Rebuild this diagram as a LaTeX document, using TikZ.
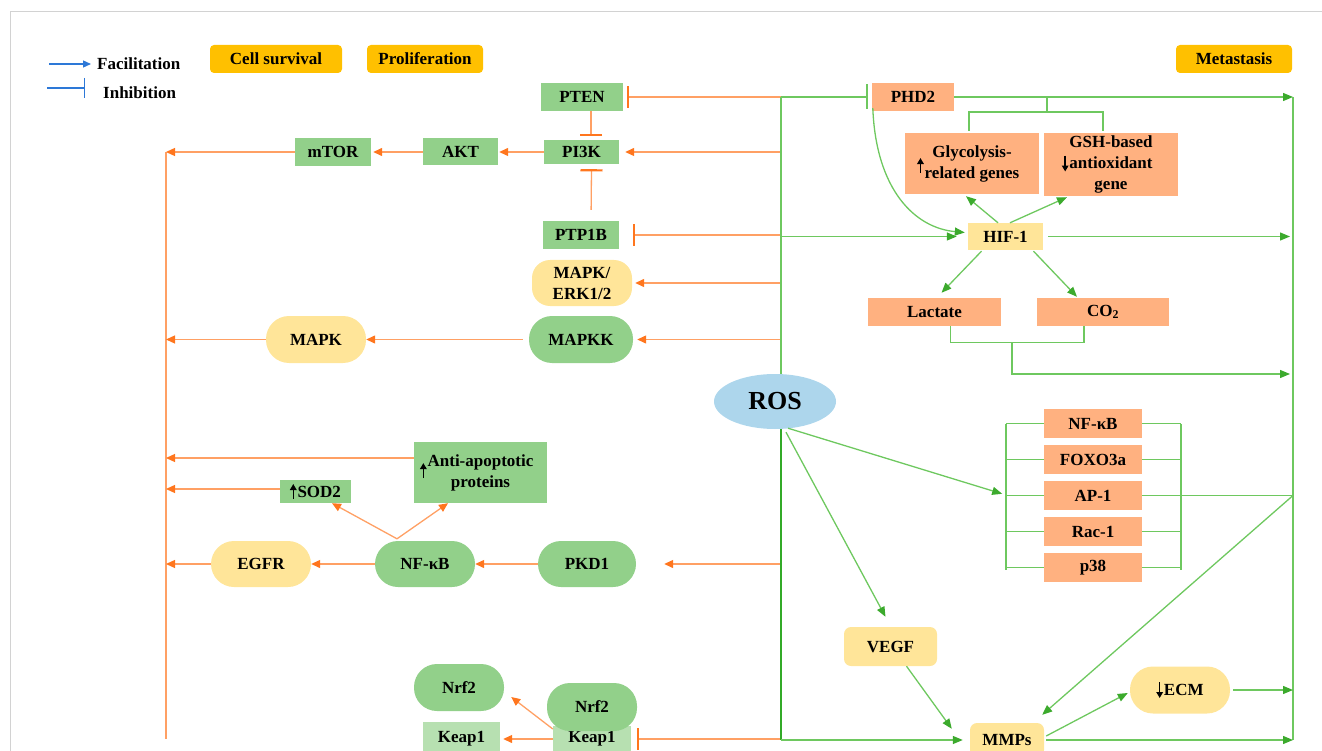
\documentclass[tikz,border=0pt]{standalone}
\usepackage{fontspec}
\setmainfont{Liberation Serif}
\usetikzlibrary{arrows.meta,shapes.geometric}
\definecolor{gbox}{RGB}{146,208,138}
\definecolor{lgbox}{RGB}{183,224,177}
\definecolor{ybox}{RGB}{255,229,153}
\definecolor{obox}{RGB}{255,177,128}
\definecolor{labc}{RGB}{255,192,0}
\definecolor{rosc}{RGB}{173,214,236}
\definecolor{oline}{RGB}{255,160,100}
\definecolor{otip}{RGB}{255,118,30}
\definecolor{gline}{RGB}{110,200,95}
\definecolor{gtip}{RGB}{60,170,45}
\definecolor{gthick}{RGB}{50,170,40}
\definecolor{bline}{RGB}{45,120,215}
\definecolor{framec}{RGB}{210,210,210}
\newcommand\myup{\tikz[baseline=0pt]\draw[black, line width=1.5pt, -{Triangle[length=6pt,width=6.5pt]}] (0pt,-2pt) -- (0pt,13pt);\kern1pt}
\newcommand\mydown{\tikz[baseline=0pt]\draw[black, line width=1.5pt, -{Triangle[length=6pt,width=6.5pt]}] (0pt,13pt) -- (0pt,-3pt);\kern1pt}
\begin{document}
\begin{tikzpicture}[x=1pt,y=-1pt,
  every node/.style={font=\bfseries\fontsize{17}{21}\selectfont, inner sep=0pt, align=center},
  sz/.style 2 args={minimum width=#1, minimum height=#2},
  gb/.style={rectangle, fill=gbox},
  lgb/.style={rectangle, fill=lgbox},
  ob/.style={rectangle, fill=obox},
  yb/.style={rectangle, fill=ybox},
  yr/.style={rectangle, fill=ybox, rounded corners=7},
  gst/.style={rectangle, fill=gbox, rounded corners=23},
  yst/.style={rectangle, fill=ybox, rounded corners=23},
  labbox/.style={rectangle, fill=labc, rounded corners=4},
  oarr/.style={draw=oline, line width=1.3, -{Triangle[length=9pt,width=8pt,color=otip]}},
  oinh/.style={draw=oline, line width=1.3, -{Bar[width=22pt,line width=2.2pt,color=otip]}},
  garr/.style={draw=gline, line width=1.3, -{Triangle[length=10pt,width=8pt,color=gtip]}},
  ginh/.style={draw=gline, line width=1.3, -{Bar[width=25pt,line width=1.5pt]}},
  gl/.style={draw=gline, line width=1.3},
  ol/.style={draw=oline, line width=1.3},
]
\useasboundingbox (0,0) rectangle (1322,751);
\clip (0,0) rectangle (1322,751);
\draw[framec, line width=1] (10,751) -- (10,12) -- (1322,12);

% legend
\coordinate (fa1) at (49,64); \coordinate (fa2) at (91,64);
\draw[draw=bline, line width=1.3, -{Triangle[length=8pt,width=7pt,color=bline]}] (fa1) -- (fa2);
\node[anchor=west] (fac) at (97,64) {Facilitation};
\coordinate (in1) at (47,88); \coordinate (in2) at (85,88);
\draw[draw=bline, line width=1.3, -{Bar[width=20pt,line width=1.3pt]}] (in1) -- (in2);
\node[anchor=west] (inh) at (103,93) {Inhibition};
\node[labbox, sz={132}{28}] (cs) at (276,59) {Cell survival};
\node[labbox, sz={116}{28}] (pro) at (425,59) {Proliferation};
\node[labbox, sz={116}{28}] (met) at (1234,59) {Metastasis};

% left side nodes
\node[gb, sz={82}{28}] (PTEN) at (582,97) {PTEN};
\node[gb, sz={75}{24}] (PI3K) at (581.5,152) {PI3K};
\node[gb, sz={76}{28}] (mTOR) at (333,152) {mTOR};
\node[gb, sz={75}{27}] (AKT) at (460.5,152) {AKT};
\node[gb, sz={76}{28}] (PTP1B) at (581,235) {PTP1B};
\node[rectangle, fill=ybox, rounded corners=18, sz={100}{46}] (ERK) at (582,283) {MAPK/\\ERK1/2};
\node[gst, sz={104}{47}] (MAPKK) at (581,339.5) {MAPKK};
\node[yst, sz={100}{47}] (MAPK) at (316,339.5) {MAPK};
\node[gb, sz={133}{61}] (Anti) at (480.5,472.5) {\llap{\raisebox{-10pt}[0pt][0pt]{\myup}}Anti-apoptotic\\proteins};
\node[gb, sz={71}{23}] (SOD2) at (315.5,491.5) {\myup SOD2};
\node[gst, sz={100}{46}] (NFkB) at (425,564) {NF-κB};
\node[yst, sz={100}{46}] (EGFR) at (261,564) {EGFR};
\node[gst, sz={98}{46}] (PKD1) at (587,564) {PKD1};
\node[gst, sz={90}{47}] (Nrf2L) at (459,687.5) {Nrf2};
\node[lgb, sz={77}{34}] (Keap1L) at (461.5,739) {Keap1};
\node[lgb, sz={78}{26}] (Keap1R) at (592,739) {Keap1};
\node[gst, sz={90}{48}] (Nrf2R) at (592,707) {Nrf2};

% ROS
\node[ellipse, fill=rosc, minimum width=122, minimum height=55, font=\bfseries\fontsize{26}{30}\selectfont] (ROS) at (775,401.5) {ROS};

% right side nodes
\node[ob, sz={82}{28}] (PHD2) at (913,97) {PHD2};
\node[ob, sz={134}{61}] (Gly) at (972,163.5) {Glycolysis-\\\llap{\raisebox{7pt}[0pt][0pt]{\myup}}related genes};
\node[ob, sz={134}{63}] (GSH) at (1111,164.5) {GSH-based\\\llap{\mydown}antioxidant\\gene};
\node[yb, sz={75}{27}] (HIF) at (1005.5,236.5) {HIF-1};
\node[ob, sz={133}{28}] (Lac) at (934.5,312) {Lactate};
\node[ob, sz={132}{28}] (CO2) at (1103,312) {CO\textsubscript{2}};
\node[ob, sz={98}{29}] (NFkB2) at (1093,423.5) {NF-κB};
\node[ob, sz={98}{29}] (FOXO) at (1093,459.5) {FOXO3a};
\node[ob, sz={98}{29}] (AP1) at (1093,495.5) {AP-1};
\node[ob, sz={98}{29}] (Rac1) at (1093,531.5) {Rac-1};
\node[ob, sz={98}{29}] (p38) at (1093,567.5) {p38};
\node[yr, sz={93}{39}] (VEGF) at (890.5,646.5) {VEGF};
\node[yr, sz={74}{34}] (MMPs) at (1007,740) {MMPs};
\node[yst, sz={100}{47}] (ECM) at (1180,690) {\mydown ECM};

% coordinates
\coordinate (vtop) at (781,97);
\coordinate (vbot) at (781,740);
\coordinate (rtop) at (1293,97);
\coordinate (rbot) at (1293,740);
\coordinate (ltop) at (166,152);
\coordinate (lbot) at (166,739);

% orange connectors
\draw[ol] (ltop) -- (lbot);
\draw[oinh] (PTEN -| vtop) -- ([shift={(4,0)}]PTEN.east);
\draw[oarr, shorten >=6] (PI3K -| vtop) -- (PI3K.east);
\draw[oinh] (PTP1B -| vtop) -- ([shift={(14,0)}]PTP1B.east);
\draw[oarr, shorten >=3] (ERK -| vtop) -- (ERK.east);
\draw[oarr, shorten >=4] (MAPKK -| vtop) -- (MAPKK.east);
\draw[oarr, shorten >=28] (PKD1 -| vtop) -- (PKD1.east);
\draw[oinh] (Keap1R -| vtop) -- ([shift={(6,0)}]Keap1R.east);
\draw[oinh] ([shift={(9,0)}]PTEN.south) -- ([shift={(9.5,-4)}]PI3K.north);
\draw[oinh, shorten <=11] ([shift={(10,0)}]PTP1B.north) -- ([shift={(10,5)}]PI3K.south);
\draw[oarr, shorten >=1] (PI3K.west) -- (AKT.east);
\draw[oarr, shorten >=2] (AKT.west) -- (mTOR.east);
\draw[oarr] (mTOR.west) -- (mTOR.west -| ltop);
\draw[oarr, shorten <=6] (MAPKK.west) -- (MAPK.east);
\draw[oarr] (MAPK.west) -- (MAPK.west -| ltop);
\draw[oarr] ([shift={(0,-14.5)}]Anti.west) -- ([shift={(0,-14.5)}]Anti.west -| ltop);
\draw[oarr] ([shift={(0,-2.5)}]SOD2.west) -- ([shift={(0,-2.5)}]SOD2.west -| ltop);
\draw[oarr] (PKD1.west) -- (NFkB.east);
\draw[oarr] (NFkB.west) -- (EGFR.east);
\draw[oarr] (EGFR.west) -- (EGFR.west -| ltop);
\coordinate (nfk) at ([shift={(-28,-2)}]NFkB.north);
\draw[oarr] (nfk) -- ([shift={(16.5,0)}]SOD2.south);
\draw[oarr] (nfk) -- ([shift={(-32.5,0)}]Anti.south);
\draw[oarr, shorten >=3] (Keap1R.west) -- (Keap1L.east);
\draw[oarr] ([shift={(0,-10)}]Keap1R.west) -- ([shift={(7,9.5)}]Nrf2L.east);

% green connectors
\draw[gl] (vtop) -- (vtop |- ROS.north);
\draw[draw=gthick, line width=2.6] (vtop |- ROS.south) -- (vbot);
\draw[ginh] (vtop) -- ([shift={(-4,0)}]PHD2.west);
\draw[garr] (PHD2.east) -- (rtop);
\draw[gl] (rtop) -- (rbot);
\coordinate (gbt) at (1047,97);
\coordinate (gbm) at (1047,112);
\draw[gl] (gbt) -- (gbm);
\draw[gl] (gbm) -| ([shift={(-3,-2)}]Gly.north);
\draw[gl] (gbm) -| ([shift={(-8,-2)}]GSH.north);
\draw[garr, shorten >=11] (HIF -| vtop) -- (HIF.west);
\draw[garr] ([shift={(1,-3)}]PHD2.south west) .. controls (876,190) and (915,228) .. ([shift={(-3,-4)}]HIF.west);
\draw[garr] ([shift={(-7.5,0)}]HIF.north) -- ([shift={(-6,2)}]Gly.south);
\draw[garr] ([shift={(4.5,0)}]HIF.north) -- ([shift={(-44,1)}]GSH.south);
\draw[garr, shorten <=5, shorten >=3] (HIF.east) -- (HIF.east -| rtop);
\draw[garr] ([shift={(-24,1)}]HIF.south) -- ([shift={(7,-5)}]Lac.north);
\draw[garr] ([shift={(28,1)}]HIF.south) -- ([shift={(-26,-1)}]CO2.north);
\draw[gl] ([shift={(16,0)}]Lac.south) |- ([shift={(-19,16)}]CO2.south) -- ([shift={(-19,0)}]CO2.south);
\coordinate (lcm) at (1012,342);
\coordinate (lce) at (1012,374);
\draw[garr, shorten >=3] (lcm) -- (lce) -- (lce -| rtop);
\coordinate (bl1) at (1006,424); \coordinate (bl2) at (1006,570);
\coordinate (br1) at (1181,424); \coordinate (br2) at (1181,570);
\coordinate (nbl) at (1006,495);
\draw[garr, shorten >=4] ([shift={(13,-1)}]ROS.south) -- (nbl);
\draw[gl] (bl1) -- (bl2);
\draw[gl] (br1) -- (br2);
\foreach \n in {NFkB2,FOXO,AP1,Rac1,p38} {
  \draw[gl] (\n.west -| bl1) -- (\n.west);
  \draw[gl] (\n.east) -- (\n.east -| br1);
}
\draw[gl] (AP1.east) -- (AP1.east -| rtop);
\draw[garr] (AP1.east -| rtop) -- ([shift={(-2,-8)}]MMPs.north east);
\draw[garr] ([shift={(11,3)}]ROS.south) -- ([shift={(-5,-10)}]VEGF.north);
\draw[garr] ([shift={(16,0)}]VEGF.south) -- ([shift={(-18,6)}]MMPs.north west);
\draw[garr, shorten >=7] (vbot) -- (MMPs.west);
\draw[garr] ([shift={(2,-4)}]MMPs.east) -- ([shift={(-2,3)}]ECM.west);
\draw[garr, shorten <=3] (ECM.east) -- (ECM.east -| rtop);
\draw[garr, shorten <=2] (MMPs.east) -- (rbot);
\end{tikzpicture}
\end{document}
